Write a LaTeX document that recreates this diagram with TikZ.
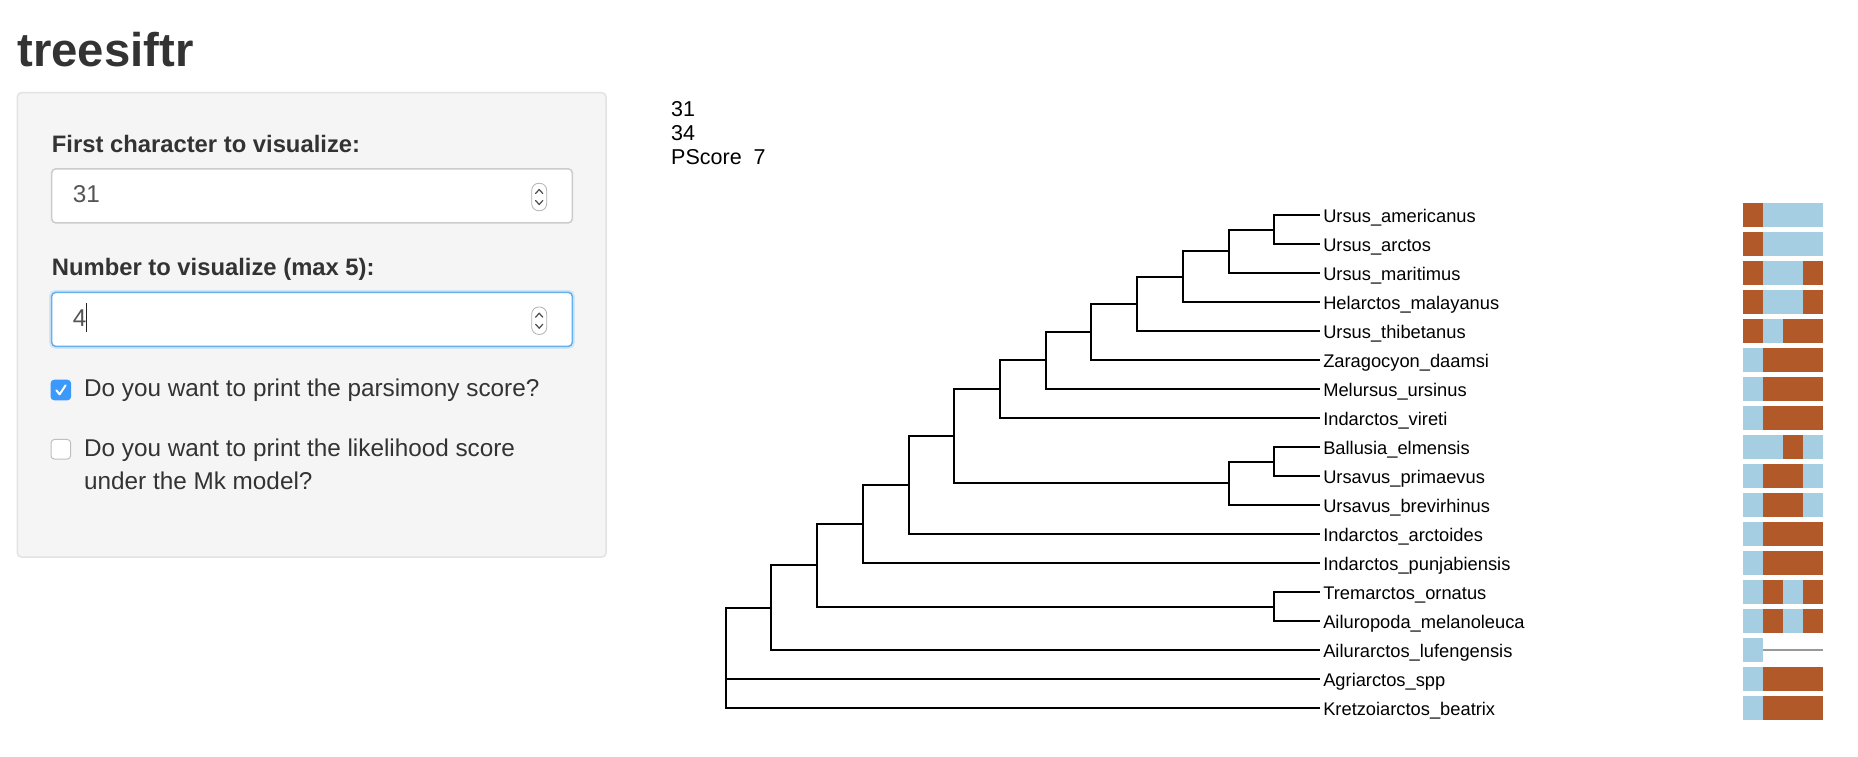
\documentclass[tikz,border=0pt]{standalone}
\usepackage{fontspec}
\setmainfont{Liberation Sans}
\usepackage{xcolor}
\usepackage{tikz}
\usetikzlibrary{positioning}
\definecolor{ink}{HTML}{333333}
\definecolor{wellfill}{HTML}{F5F5F5}
\definecolor{wellline}{HTML}{E3E3E3}
\definecolor{boxline}{HTML}{CCCCCC}
\definecolor{focus}{HTML}{66AFE9}
\definecolor{tick}{HTML}{3B99FC}
\definecolor{sB}{HTML}{B15928}
\definecolor{sL}{HTML}{A6CEE3}
\definecolor{sN}{HTML}{FFFFFF}
\tikzstyle{well} = [rectangle, rounded corners=4pt, minimum width=588.7pt, minimum height=464.3pt, draw=wellline, fill=wellfill, line width=1.5pt]
\tikzstyle{numbox} = [rectangle, rounded corners=4pt, minimum width=520.6pt, minimum height=54pt, draw=boxline, fill=white, line width=1.5pt]
\tikzstyle{focused} = [draw=focus, preaction={draw=focus!30, line width=5pt}]
\tikzstyle{spinner} = [rectangle, rounded corners=7pt, minimum width=15pt, minimum height=27.4pt, draw=black!30, fill=white, line width=0.8pt]
\tikzstyle{chev} = [line width=1.2pt, draw=black!70, line cap=round, line join=round]
\tikzstyle{checkbox} = [rectangle, rounded corners=3.5pt, minimum size=19.7pt, inner sep=0, draw=black!25, fill=white, line width=1pt]
\tikzstyle{heading} = [anchor=base west, inner sep=0, text=ink, font=\bfseries\fontsize{23.8}{28}\selectfont]
\tikzstyle{body} = [anchor=base west, inner sep=0, text=ink, font=\fontsize{24.3}{29}\selectfont]
\tikzstyle{output} = [anchor=base west, inner sep=0, font=\fontsize{21.5}{26}\selectfont]
\tikzstyle{taxon} = [inner sep=0, text height=16.5pt, text depth=1.8pt, font=\fontsize{18.3}{22}\selectfont]
\tikzstyle{branch} = [line width=2pt]

\begin{document}
\begin{tikzpicture}[x=1pt, y=-1pt]
	\useasboundingbox (0,0) rectangle (1858,756);
	\node (title) [heading, font=\bfseries\fontsize{47.3}{56}\selectfont] at (17.3,66.7) {treesiftr};
	\node (panel) [well] at (311.65,324.85) {};
	\node (firstlab) [heading] at (51.7,152.3) {First character to visualize:};
	\node (first) [numbox] at (312,195.85) {};
	\node (firstval) [body, text=black!67] at (72.7,202.7) {31};
	\node (numlab) [heading] at (51.7,275) {Number to visualize (max 5):};
	\node (num) [numbox, focused] at (312,319.35) {};
	\node (numval) [body, text=black!67] at (72.7,326) {4};
	\draw [line width=1.3pt, black!85] (86.7,303) -- (86.7,331.7);
	\foreach \y/\s in {197/spinA, 320.7/spinB} {
		\node (\s) [spinner] at (539.2,\y) {};
		\draw [chev] (535.6,{\y-3.5}) -- (539.2,{\y-7.5}) -- (542.8,{\y-3.5});
		\draw [chev] (535.6,{\y+3.5}) -- (539.2,{\y+7.5}) -- (542.8,{\y+3.5});
	}
	\node (pcheck) [checkbox, fill=tick, draw=tick] at (60.85,390) {};
	\draw [white, line width=2pt, line cap=round, line join=round] (56.3,390.3) -- (59.6,394.3) -- (65.6,385.3);
	\node (pars) [body] at (84,396.7) {Do you want to print the parsimony score?};
	\node (lcheck) [checkbox] at (60.85,449.3) {};
	\node (lik) [body] at (84,456) {Do you want to print the likelihood score};
	\node (mk) [body] at (84,489.3) {under the Mk model?};
	\node (c1) [output] at (671,116.7) {31};
	\node (c2) [output] at (671,140.7) {34};
	\node (ps) [output] at (671,164.3) {PScore\ \ 7};
	\begin{scope}[shift={(725.7,215)}, x=45.72pt, y=-29pt]
		\coordinate (root) at (0,15.5);
		\coordinate (n15) at (1,13.5393);
		\coordinate (n14) at (2,12.0786);
		\coordinate (n13) at (12,13.5);
		\coordinate (n12) at (3,10.6572);
		\coordinate (n11) at (4,9.3145);
		\coordinate (n10) at (5,7.6289);
		\coordinate (n9) at (11,9.25);
		\coordinate (n8) at (12,8.5);
		\coordinate (n7) at (6,6.0078);
		\coordinate (n6) at (7,5.0156);
		\coordinate (n5) at (8,4.0313);
		\coordinate (n4) at (9,3.0625);
		\coordinate (n3) at (10,2.125);
		\coordinate (n2) at (11,1.25);
		\coordinate (n1) at (12,0.5);
		\foreach \i in {0,...,17}
			\coordinate (t\i) at (13,\i);
		\foreach \a/\b in {root/n15, root/t16, root/t17, n15/n14, n15/t15, n14/n12, n14/n13, n13/t13, n13/t14, n12/n11, n12/t12, n11/n10, n11/t11, n10/n7, n10/n9, n9/n8, n9/t10, n8/t8, n8/t9, n7/n6, n7/t7, n6/n5, n6/t6, n5/n4, n5/t5, n4/n3, n4/t4, n3/n2, n3/t3, n2/n1, n2/t2, n1/t0, n1/t1}
			\draw [branch] (\a) |- (\b);
		\foreach \name [count=\i from 0] in {Ursus\_americanus, Ursus\_arctos, Ursus\_maritimus, Helarctos\_malayanus, Ursus\_thibetanus, Zaragocyon\_daamsi, Melursus\_ursinus, Indarctos\_vireti, Ballusia\_elmensis, Ursavus\_primaevus, Ursavus\_brevirhinus, Indarctos\_arctoides, Indarctos\_punjabiensis, Tremarctos\_ornatus, Ailuropoda\_melanoleuca, Ailurarctos\_lufengensis, Agriarctos\_spp, Kretzoiarctos\_beatrix}
			\node (l\i) [taxon, right=3pt of t\i] {\name};
	\end{scope}
	\foreach \row [count=\i from 0] in {{B,L,L,L},{B,L,L,L},{B,L,L,B},{B,L,L,B},{B,L,B,B},{L,B,B,B},{L,B,B,B},{L,B,B,B},{L,L,B,L},{L,B,B,L},{L,B,B,L},{L,B,B,B},{L,B,B,B},{L,B,L,B},{L,B,L,B},{L,N,N,N},{L,B,B,B},{L,B,B,B}} {
		\foreach \c [count=\j from 0] in \row
			\fill [s\c] ({1743+20*\j},{203.3+29*\i}) rectangle +(20,23.4);
	}
	\draw [black!40, line width=2pt] (1763,650) -- (1823,650);
\end{tikzpicture}
\end{document}
